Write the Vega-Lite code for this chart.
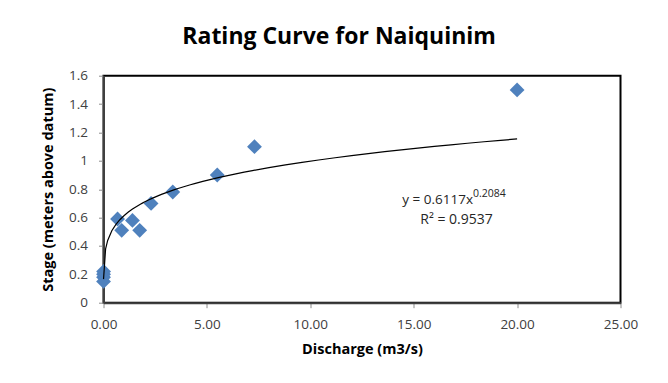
{
  "$schema": "https://vega.github.io/schema/vega-lite/v6.json",
  "width": 517,
  "height": 227,
  "autosize": {"type": "none"},
  "padding": {"left": 103.5, "top": 75.7, "right": 47.5, "bottom": 80.3},
  "background": "white",
  "title": {
    "text": "Rating Curve for Naiquinim",
    "font": "Open Sans",
    "fontSize": 23,
    "fontWeight": "bold",
    "color": "#000000",
    "anchor": "middle",
    "frame": "bounds",
    "offset": 20
  },
  "config": {
    "view": {"stroke": "#000000", "strokeWidth": 2},
    "axis": {
      "grid": false,
      "labelFont": "Open Sans",
      "labelFontSize": 13.5,
      "labelColor": "#404040",
      "labelFlush": false,
      "domainColor": "#404040",
      "domainWidth": 2,
      "tickColor": "#8c8c8c",
      "tickSize": 5,
      "titleFont": "Open Sans",
      "titleFontSize": 14.5,
      "titleFontWeight": "bold",
      "titleColor": "#000000"
    }
  },
  "data": {
    "values": [
      {"q": 20.0, "stage": 1.5},
      {"q": 7.3, "stage": 1.1},
      {"q": 5.5, "stage": 0.9},
      {"q": 3.35, "stage": 0.78},
      {"q": 2.3, "stage": 0.7},
      {"q": 1.4, "stage": 0.58},
      {"q": 0.68, "stage": 0.59},
      {"q": 0.88, "stage": 0.51},
      {"q": 1.75, "stage": 0.51},
      {"q": 0.002, "stage": 0.15},
      {"q": 0.0025, "stage": 0.18},
      {"q": 0.003, "stage": 0.2},
      {"q": 0.004, "stage": 0.22}
    ]
  },
  "layer": [
    {
      "mark": {"type": "point", "shape": "diamond", "filled": true, "size": 220, "opacity": 1, "color": "#4F81BD"},
      "encoding": {
        "x": {
          "field": "q", "type": "quantitative",
          "scale": {"domain": [0, 25], "nice": false, "zero": false},
          "axis": {"values": [0, 5, 10, 15, 20, 25], "tickCount": 6, "format": ".2f", "title": "Discharge (m3/s)", "labelPadding": 10, "labelOverlap": false, "titlePadding": 11}
        },
        "y": {
          "field": "stage", "type": "quantitative",
          "scale": {"domain": [0, 1.6], "nice": false},
          "axis": {"values": [0, 0.2, 0.4, 0.6, 0.8, 1, 1.2, 1.4, 1.6], "tickCount": 9, "format": "~g", "title": "Stage (meters above datum)", "labelPadding": 11, "labelOverlap": false, "titlePadding": 13}
        }
      }
    },
    {
      "transform": [
        {"regression": "stage", "on": "q", "method": "pow", "extent": [0.002, 20]}
      ],
      "mark": {"type": "line", "color": "#000000", "strokeWidth": 1.2},
      "encoding": {
        "x": {"field": "q", "type": "quantitative"},
        "y": {"field": "stage", "type": "quantitative"}
      }
    },
    {
      "data": {"values": [{"label": "y = 0.6117x"}]},
      "mark": {"type": "text", "align": "right", "baseline": "alphabetic", "font": "Open Sans", "fontSize": 13.5, "color": "#262626"},
      "encoding": {
        "x": {"datum": 17.87, "type": "quantitative"},
        "y": {"datum": 0.695, "type": "quantitative"},
        "text": {"field": "label"}
      }
    },
    {
      "data": {"values": [{"label": "0.2084"}]},
      "mark": {"type": "text", "align": "left", "baseline": "alphabetic", "font": "Open Sans", "fontSize": 10.5, "dy": -7, "color": "#262626"},
      "encoding": {
        "x": {"datum": 17.87, "type": "quantitative"},
        "y": {"datum": 0.695, "type": "quantitative"},
        "text": {"field": "label"}
      }
    },
    {
      "data": {"values": [{"label": "R² = 0.9537"}]},
      "mark": {"type": "text", "align": "center", "baseline": "alphabetic", "font": "Open Sans", "fontSize": 14, "color": "#262626"},
      "encoding": {
        "x": {"datum": 17.07, "type": "quantitative"},
        "y": {"datum": 0.552, "type": "quantitative"},
        "text": {"field": "label"}
      }
    }
  ]
}
